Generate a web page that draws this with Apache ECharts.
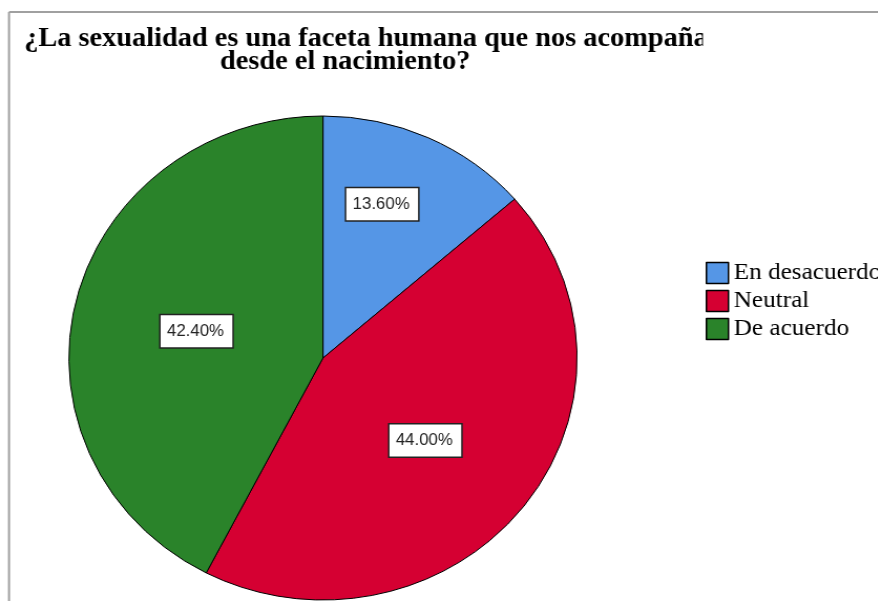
<!DOCTYPE html>
<html>
<head>
<meta charset="utf-8">
<script src="https://cdn.jsdelivr.net/npm/echarts@6/dist/echarts.min.js"></script>
<style>
  html, body { margin: 0; padding: 0; background: #fff; overflow: hidden; }
  #wrap { width: 878px; height: 601px; overflow: hidden; position: relative; }
  #chart { width: 836px; height: 601px; transform: scaleX(1.05); transform-origin: 0 0; position: absolute; left: 0; top: 0; }
</style>
</head>
<body>
<div id="wrap"><div id="chart"></div></div>
<script>
const titleLine1 = '¿La sexualidad es una faceta humana que nos acompaña';
const titleLine2 = 'desde el nacimiento?';
const categories = ['En desacuerdo', 'Neutral', 'De acuerdo'];
const values = [13.6, 44.0, 42.4];
const colors = ['#5596E6', '#D50032', '#2A832A'];
const labelOffsets = [[5, -41], [0, 6], [0, 2.5]];

const serif = '"Liberation Serif", "DejaVu Serif", serif';
const titleFont = 'bold 27px "Liberation Serif", serif';
const chart = echarts.init(document.getElementById('chart'), null, { renderer: 'canvas' });
chart.setOption({
  animation: false,
  backgroundColor: '#ffffff',
  graphic: [
    { type: 'text', x: 23, y: 39, style: { text: titleLine1, font: titleFont, fill: '#000', textAlign: 'left', verticalAlign: 'middle' } },
    { type: 'text', x: 209.5, y: 62.5, style: { text: titleLine2, font: titleFont, fill: '#000', textAlign: 'left', verticalAlign: 'middle' } },
    { type: 'rect', shape: { x: 669.5, y: 18, width: 200, height: 36 }, style: { fill: '#fff' } },
    { type: 'line', shape: { x1: 8.6, y1: 12, x2: 836, y2: 12 }, style: { stroke: '#a0a0a0', lineWidth: 2 } },
    { type: 'line', shape: { x1: 8.6, y1: 12, x2: 8.6, y2: 601 }, style: { stroke: '#a0a0a0', lineWidth: 2 } }
  ],
  legend: {
    orient: 'vertical',
    left: 672, top: 261, padding: 0,
    itemWidth: 21, itemHeight: 21, itemGap: 4,
    icon: 'rect',
    selectedMode: false,
    itemStyle: { borderColor: '#000', borderWidth: 1.5 },
    textStyle: { fontFamily: serif, fontSize: 24, lineHeight: 24, color: '#000' },
    data: categories
  },
  series: [{
    type: 'pie',
    center: [307.6, 358],
    radius: 242,
    startAngle: 90,
    clockwise: true,
    avoidLabelOverlap: false,
    silent: true,
    emphasis: { disabled: true },
    itemStyle: { borderColor: '#000', borderWidth: 1 },
    label: {
      show: true,
      position: 'inside',
      formatter: p => p.value.toFixed(2) + '%',
      fontFamily: '"Liberation Sans", Arial, sans-serif',
      fontSize: 16,
      color: '#222',
      backgroundColor: '#fff',
      borderColor: '#222',
      borderWidth: 1.5,
      padding: [8, 8, 8, 6]
    },
    labelLine: { show: false },
    labelLayout: p => ({ dx: labelOffsets[p.dataIndex][0], dy: labelOffsets[p.dataIndex][1] }),
    data: categories.map((c, i) => ({ name: c, value: values[i], itemStyle: { color: colors[i] } }))
  }]
});
</script>
</body>
</html>
